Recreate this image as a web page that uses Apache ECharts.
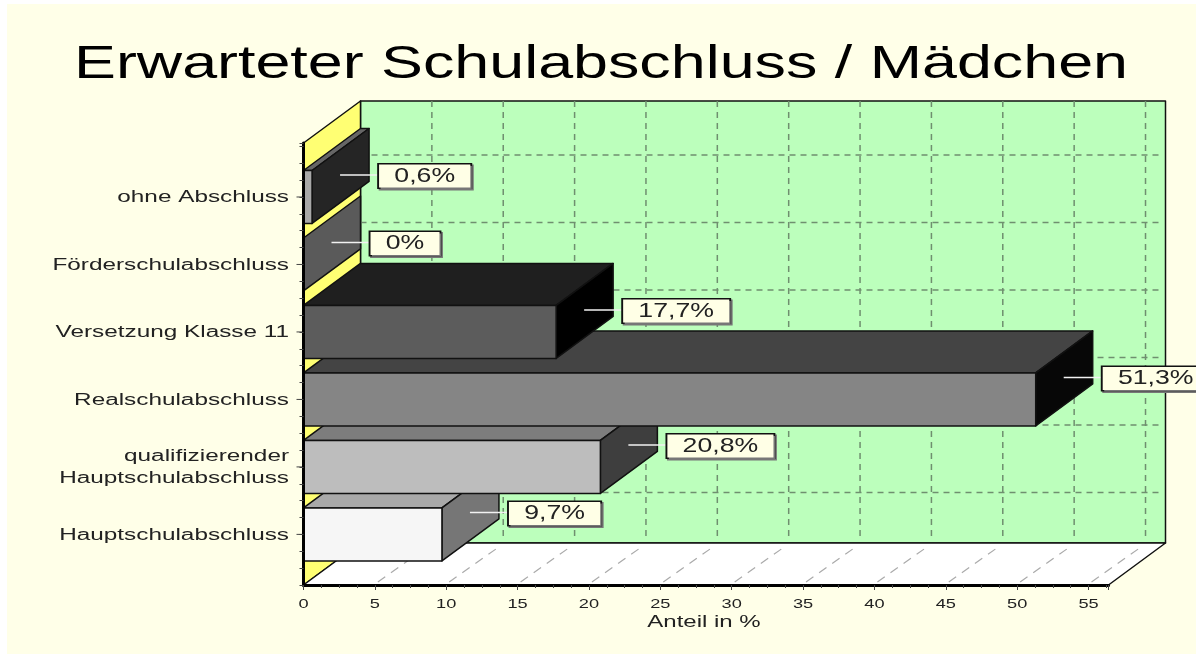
<!DOCTYPE html>
<html>
<head>
<meta charset="utf-8">
<title>Erwarteter Schulabschluss / Mädchen</title>
<script src="https://cdn.jsdelivr.net/npm/echarts@6/dist/echarts.min.js"></script>
<style>
  html, body { margin: 0; padding: 0; background: #fff; }
  #chart { width: 1196px; height: 654px; }
</style>
</head>
<body>
<div id="chart"></div>
<script>
// bottom to top, same order as on the y axis
const categories = ['Hauptschulabschluss', 'qualifizierender\nHauptschulabschluss', 'Realschulabschluss', 'Versetzung Klasse 11', 'Förderschulabschluss', 'ohne Abschluss'];
const values = [9.7, 20.8, 51.3, 17.7, 0, 0.6];
const valueLabels = ['9,7%', '20,8%', '51,3%', '17,7%', '0%', '0,6%'];
const xTicks = [0, 5, 10, 15, 20, 25, 30, 35, 40, 45, 50, 55];

const titleText = 'Erwarteter Schulabschluss / Mädchen';
const xName = 'Anteil in %';

// front, top, side
const barColors = [
  ['#f6f6f6', '#a9a9a9', '#767676'],
  ['#bdbdbd', '#7d7d7d', '#3e3e3e'],
  ['#858585', '#444444', '#070707'],
  ['#5c5c5c', '#1f1f1f', '#000000'],
  ['#5a5a5a', '#5a5a5a', '#5a5a5a'],
  ['#a8a8a8', '#666666', '#252525']
];

const X_MAX = 56.4;
const Y_MIN = -3;
const Y_MAX = 23.2;
const BAND = 4;          // one category takes 4 y axis units
const BAR_HALF = 1.57;
const DX = 57;           // depth of the 3d box
const DY = -42;
const FONT = 'Liberation Sans, Arial, sans-serif';

function poly(points, fill, z2) {
  return {
    type: 'polygon',
    z2: z2,
    shape: { points: points },
    style: { fill: fill, stroke: '#111', lineWidth: 1.5, lineJoin: 'round' }
  };
}

function dashed(x1, y1, x2, y2, stroke, width, dash) {
  return {
    type: 'line',
    z2: 2,
    shape: { x1: x1, y1: y1, x2: x2, y2: y2 },
    style: { stroke: stroke, lineWidth: width, lineDash: dash }
  };
}

function wideText(text, x, y, size, stretch, align) {
  return {
    type: 'text',
    z2: 5,
    x: x,
    y: y,
    scaleX: stretch,
    style: {
      text: text,
      fill: '#222',
      font: size + 'px ' + FONT,
      lineHeight: 22,
      textAlign: align,
      textVerticalAlign: 'middle'
    }
  };
}

// walls, floor, grid and the stretched axis texts
function renderFrame(params, api) {
  let o = api.coord([0, Y_MIN]);
  let end = api.coord([X_MAX, Y_MAX]);
  let children = [];

  children.push(poly([[o[0] + DX, end[1] + DY], [end[0] + DX, end[1] + DY], [end[0] + DX, o[1] + DY], [o[0] + DX, o[1] + DY]], '#bcffbc', 1));
  children.push(poly([[o[0], o[1]], [o[0], end[1]], [o[0] + DX, end[1] + DY], [o[0] + DX, o[1] + DY]], '#ffff73', 1));
  children.push(poly([[o[0], o[1]], [o[0] + DX, o[1] + DY], [end[0] + DX, o[1] + DY], [end[0], o[1]]], '#ffffff', 1));

  xTicks.forEach(function (t) {
    let p = api.coord([t, Y_MIN]);
    if (t > 0) {
      children.push(dashed(p[0] + DX, end[1] + DY, p[0] + DX, o[1] + DY - 4, '#6f8f6f', 1.5, [6, 5]));
      children.push(dashed(p[0] + 3, o[1] - 3, p[0] + DX - 3, o[1] + DY + 3, '#aaa', 1.2, [9, 7]));
    }
    children.push(wideText(String(t), p[0], 604, 13, 1.4, 'center'));
  });

  categories.forEach(function (name, i) {
    let p = api.coord([0, i * BAND]);
    children.push(dashed(o[0] + DX, p[1] + DY, end[0] + DX - 5, p[1] + DY, '#6f8f6f', 1.5, [6, 5]));
    children.push({
      type: 'line',
      z2: 5,
      shape: { x1: p[0] - 7, y1: p[1], x2: p[0], y2: p[1] },
      style: { stroke: '#444', lineWidth: 1 }
    });
    children.push(wideText(name, 289, p[1] + 1, 16, 1.52, 'right'));
  });

  children.push(wideText(xName, 704, 623, 16, 1.5, 'center'));
  return { type: 'group', children: children };
}

function renderBar(params, api) {
  let i = api.value(2);
  let val = api.value(0);
  let pos = api.value(1);
  let a = api.coord([0, pos + BAR_HALF]);
  let b = api.coord([val, pos - BAR_HALF]);
  let c = barColors[i];
  // upper bars cover the top face of the bar below them
  let z = 100 + i * 10;
  let mid = (a[1] + b[1]) / 2;
  let children = [];

  if (val > 0) {
    children.push(poly([[a[0], a[1]], [a[0] + DX, a[1] + DY], [b[0] + DX, a[1] + DY], [b[0], a[1]]], c[1], z));
    children.push(poly([[a[0], a[1]], [b[0], a[1]], [b[0], b[1]], [a[0], b[1]]], c[0], z + 1));
  }
  children.push(poly([[b[0], a[1]], [b[0] + DX, a[1] + DY], [b[0] + DX, b[1] + DY], [b[0], b[1]]], c[2], z));

  // white leader line and the value box
  children.push({
    type: 'line',
    z2: 500,
    shape: { x1: b[0] + 28, y1: mid - 22, x2: b[0] + 66, y2: mid - 22 },
    style: { stroke: '#f2f2f2', lineWidth: 1.5 }
  });
  children.push({
    type: 'text',
    z2: 501,
    x: b[0] + 67,
    y: mid - 21,
    scaleX: 1.27,
    style: {
      text: valueLabels[i],
      fill: '#222',
      font: '21px ' + FONT,
      textAlign: 'left',
      textVerticalAlign: 'middle',
      backgroundColor: '#ffffe6',
      borderColor: '#111',
      borderWidth: 1.5,
      padding: [1, 12, 1, 12],
      shadowColor: '#777',
      shadowOffsetX: 1.5,
      shadowOffsetY: 1.5
    }
  });
  return { type: 'group', children: children };
}

let chart = echarts.init(document.getElementById('chart'), null, { renderer: 'canvas' });

chart.setOption({
  animation: false,
  backgroundColor: '#ffffff',
  graphic: [
    {
      type: 'rect',
      z: -1,
      shape: { x: 7, y: 4, width: 1189, height: 650 },
      style: { fill: '#ffffe8' }
    },
    {
      type: 'text',
      x: 74,
      y: 65,
      scaleX: 1.336,
      style: {
        text: titleText,
        fill: '#000',
        font: '47px ' + FONT,
        textVerticalAlign: 'middle'
      }
    }
  ],
  grid: { left: 303.5, top: 143, width: 805, height: 442 },
  xAxis: {
    type: 'value',
    min: 0,
    max: X_MAX,
    interval: 5,
    z: 5,
    axisLine: { show: true, onZero: false, lineStyle: { color: '#000', width: 3 } },
    axisTick: { show: true, length: 5, lineStyle: { color: '#444' } },
    minorTick: { show: true, splitNumber: 4, length: 3, lineStyle: { color: '#444' } },
    axisLabel: { show: false },
    splitLine: { show: false }
  },
  yAxis: {
    type: 'value',
    min: Y_MIN,
    max: Y_MAX,
    interval: 1,
    z: 5,
    axisLine: { show: true, onZero: false, lineStyle: { color: '#000', width: 3 } },
    axisTick: { show: true, length: 4, lineStyle: { color: '#444' } },
    axisLabel: { show: false },
    splitLine: { show: false }
  },
  series: [
    {
      type: 'custom',
      name: 'frame',
      z: 1,
      silent: true,
      coordinateSystem: 'cartesian2d',
      renderItem: renderFrame,
      data: [[0, 0]]
    },
    {
      type: 'custom',
      name: 'Anteil',
      z: 2,
      coordinateSystem: 'cartesian2d',
      renderItem: renderBar,
      encode: { x: 0, y: 1 },
      data: values.map(function (v, i) { return [v, i * BAND, i]; })
    }
  ]
});
</script>
</body>
</html>
